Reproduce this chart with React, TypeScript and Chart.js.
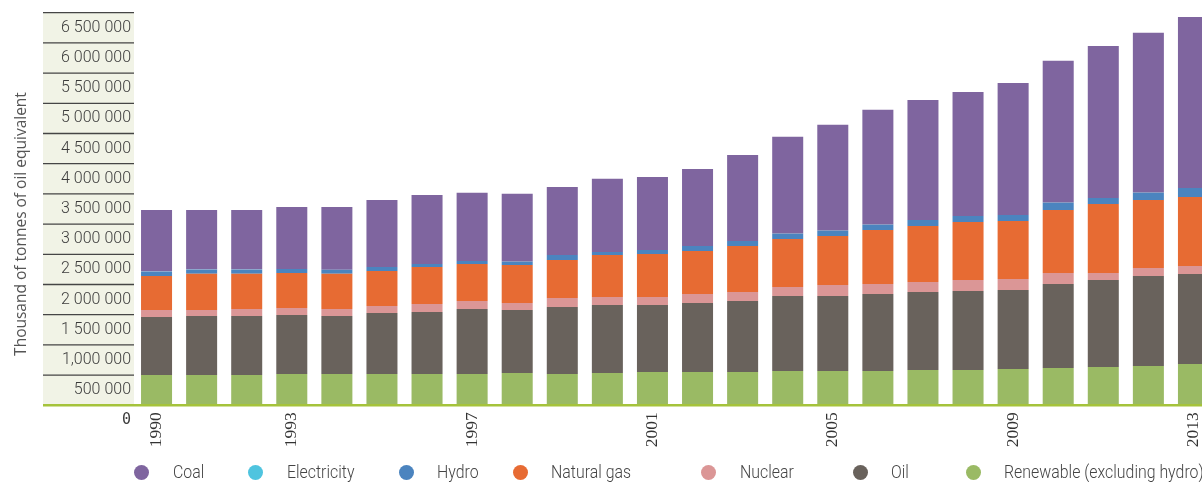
import React, { useEffect, useRef } from 'react';
import { Chart, registerables } from 'chart.js';

Chart.register(...registerables);

// ---------- data ----------
const YEARS = [
  '1990', '1991', '1992', '1993', '1994', '1995', '1996', '1997', '1998', '1999', '2000', '2001',
  '2002', '2003', '2004', '2005', '2006', '2007', '2008', '2009', '2010', '2011', '2012', '2013',
];
const X_TICK_LABELS = ['1990', '1993', '1997', '2001', '2005', '2009', '2013'];
const Y_TICK_LABELS = [
  '0', '500 000', '1,000 000', '1 500 000', '2 000 000', '2 500 000', '3 000 000',
  '3 500 000', '4 000 000', '4 500 000', '5 000 000', '5 500 000', '6 000 000', '6 500 000',
];
const Y_TITLE = 'Thousand of tonnes of oil equivalent';

const RENEWABLE = [502000, 502000, 502000, 518000, 518000, 518000, 518000, 518000, 535000, 518000, 535000, 551000,
  551000, 551000, 568000, 568000, 568000, 584000, 584000, 601000, 618000, 634000, 651000, 684000];
const OIL = [960000, 977000, 977000, 977000, 960000, 1010000, 1026000, 1076000, 1043000, 1109000, 1126000, 1109000,
  1142000, 1175000, 1242000, 1242000, 1275000, 1291000, 1308000, 1308000, 1391000, 1440000, 1490000, 1490000];
const NUCLEAR = [116000, 99000, 116000, 116000, 116000, 116000, 132000, 132000, 116000, 149000, 132000, 132000,
  149000, 149000, 149000, 182000, 166000, 166000, 182000, 182000, 182000, 116000, 132000, 132000];
const NATURAL_GAS = [563000, 601000, 584000, 579000, 584000, 579000, 613000, 613000, 629000, 629000, 695000, 712000,
  712000, 762000, 795000, 811000, 894000, 927000, 960000, 960000, 1043000, 1142000, 1126000, 1142000];
const HYDRO = [71000, 66000, 66000, 66000, 66000, 66000, 50000, 50000, 50000, 83000, 50000, 66000,
  83000, 83000, 83000, 83000, 83000, 99000, 99000, 99000, 116000, 99000, 116000, 149000];
const ELECTRICITY = [2000, 2000, 2000, 2000, 2000, 2000, 2000, 2000, 2000, 2000, 2000, 2000,
  2000, 2000, 2000, 2000, 2000, 2000, 2000, 2000, 2000, 2000, 2000, 2000];
const COAL = [1021000, 988000, 988000, 1026000, 1038000, 1109000, 1142000, 1126000, 1126000, 1126000, 1209000, 1209000,
  1275000, 1424000, 1606000, 1755000, 1904000, 1987000, 2053000, 2185000, 2351000, 2517000, 2649000, 2831000];

// ---------- styles ----------
const COLORS: Record<string, string> = {
  'Coal': '#7f659f',
  'Electricity': '#4fc4df',
  'Hydro': '#4b84bf',
  'Natural gas': '#e76b33',
  'Nuclear': '#db9696',
  'Oil': '#69625c',
  'Renewable (excluding hydro)': '#9aba64',
};
const LEGEND_ORDER = ['Coal', 'Electricity', 'Hydro', 'Natural gas', 'Nuclear', 'Oil', 'Renewable (excluding hydro)'];
const LEGEND_CIRCLE_X = [141, 255, 406, 520, 708, 860, 973];
const LEGEND_TEXT_X = [172.5, 286.5, 437, 551, 740, 891, 1004];

const CANVAS_W = 1216;
const CANVAS_H = 482;
const PLOT_TOP = 12.7;
const PLOT_BOTTOM = 405.3;
const PLOT_LEFT = 134;
const X_AXIS_H = 50;
const BEIGE_LEFT = 43;

const decorPlugin = {
  id: 'decor',
  beforeDraw(chart: any) {
    const { ctx, chartArea, scales } = chart;
    const y = scales.y;
    const top = y.getPixelForValue(6500000);
    const bottom = y.getPixelForValue(0);
    ctx.save();
    ctx.fillStyle = '#f1f3e6';
    ctx.fillRect(BEIGE_LEFT, top, chartArea.left - BEIGE_LEFT, bottom - top);
    ctx.strokeStyle = '#454545';
    ctx.lineWidth = 1.3;
    y.ticks.forEach((t: any) => {
      if (t.value === 0) return;
      const py = y.getPixelForValue(t.value);
      ctx.beginPath();
      ctx.moveTo(BEIGE_LEFT, py);
      ctx.lineTo(chartArea.left, py);
      ctx.stroke();
    });
    ctx.fillStyle = '#555';
    ctx.font = '15.5px "Open Sans"';
    ctx.textAlign = 'center';
    ctx.textBaseline = 'alphabetic';
    ctx.translate(25.5, (chartArea.top + chartArea.bottom) / 2 + 15);
    ctx.rotate(-Math.PI / 2);
    ctx.fillText(Y_TITLE, 0, 0);
    ctx.restore();
  },
  afterDatasetsDraw(chart: any) {
    const { ctx, chartArea } = chart;
    ctx.save();
    ctx.strokeStyle = '#a5c33b';
    ctx.lineWidth = 2.6;
    ctx.beginPath();
    ctx.moveTo(BEIGE_LEFT, chartArea.bottom);
    ctx.lineTo(chart.width, chartArea.bottom);
    ctx.stroke();
    ctx.restore();
  },
};

export default function App() {
  const canvasRef = useRef<HTMLCanvasElement | null>(null);

  useEffect(() => {
    if (!canvasRef.current) return;
    const series: [string, number[]][] = [
      ['Renewable (excluding hydro)', RENEWABLE],
      ['Oil', OIL],
      ['Nuclear', NUCLEAR],
      ['Natural gas', NATURAL_GAS],
      ['Hydro', HYDRO],
      ['Electricity', ELECTRICITY],
      ['Coal', COAL],
    ];
    const chart = new Chart(canvasRef.current, {
      type: 'bar',
      data: {
        labels: YEARS,
        datasets: series.map(([label, data]) => ({
          label,
          data,
          backgroundColor: COLORS[label],
          borderWidth: 0,
          barPercentage: 0.688,
          categoryPercentage: 1,
        })),
      },
      plugins: [decorPlugin],
      options: {
        responsive: false,
        animation: false,
        devicePixelRatio: 1,
        layout: {
          padding: {
            top: PLOT_TOP,
            left: 0,
            right: 0,
            bottom: CANVAS_H - PLOT_BOTTOM - X_AXIS_H,
          },
        },
        plugins: {
          legend: { display: false },
          tooltip: { enabled: false },
          title: { display: false },
        },
        scales: {
          x: {
            stacked: true,
            grid: { display: false, drawTicks: false },
            border: { display: false },
            afterFit: (scale: any) => {
              scale.height = X_AXIS_H;
              scale.paddingLeft = 0;
              scale.paddingRight = 0;
            },
            ticks: {
              autoSkip: false,
              minRotation: 90,
              maxRotation: 90,
              padding: 7,
              color: '#333',
              font: { family: '"Liberation Serif", serif', size: 17.5 },
              callback: (_v: any, i: number) => (X_TICK_LABELS.includes(YEARS[i]) ? YEARS[i] : ''),
            },
          },
          y: {
            stacked: true,
            min: 0,
            max: 6500000,
            grid: { display: false, drawTicks: false },
            border: { display: false },
            afterFit: (scale: any) => {
              scale.width = PLOT_LEFT;
              scale.paddingTop = 0;
              scale.paddingBottom = 0;
            },
            ticks: {
              stepSize: 500000,
              padding: 3,
              labelOffset: 15,
              color: '#3c3c3c',
              font: (ctx: any) =>
                ctx.index === 0
                  ? { family: '"DejaVu Sans Mono", monospace', size: 15 }
                  : { family: 'Roboto, sans-serif', size: 16, weight: '300' },
              callback: (_v: any, i: number) => Y_TICK_LABELS[i],
            },
          },
        },
      },
    });
    return () => chart.destroy();
  }, []);

  return (
    <div
      style={{
        position: 'fixed',
        left: 0,
        top: 0,
        width: 1202,
        height: CANVAS_H,
        overflow: 'hidden',
        background: '#fff',
      }}
    >
      <canvas
        ref={canvasRef}
        width={CANVAS_W}
        height={CANVAS_H}
        style={{ position: 'absolute', left: 0, top: 0, width: CANVAS_W, height: CANVAS_H }}
      />
      {LEGEND_ORDER.map((name, i) => (
        <React.Fragment key={name}>
          <div
            style={{
              position: 'absolute',
              left: LEGEND_CIRCLE_X[i] - 7.5,
              top: 465,
              width: 15,
              height: 15,
              borderRadius: '50%',
              background: COLORS[name],
            }}
          />
          <span
            style={{
              position: 'absolute',
              left: LEGEND_TEXT_X[i],
              top: 461,
              fontFamily: 'Roboto, sans-serif',
              fontWeight: 300,
              fontSize: 18.7,
              lineHeight: '22px',
              color: '#444',
              whiteSpace: 'nowrap',
              transform: 'scaleX(0.85)',
              transformOrigin: 'left center',
            }}
          >
            {name}
          </span>
        </React.Fragment>
      ))}
    </div>
  );
}
